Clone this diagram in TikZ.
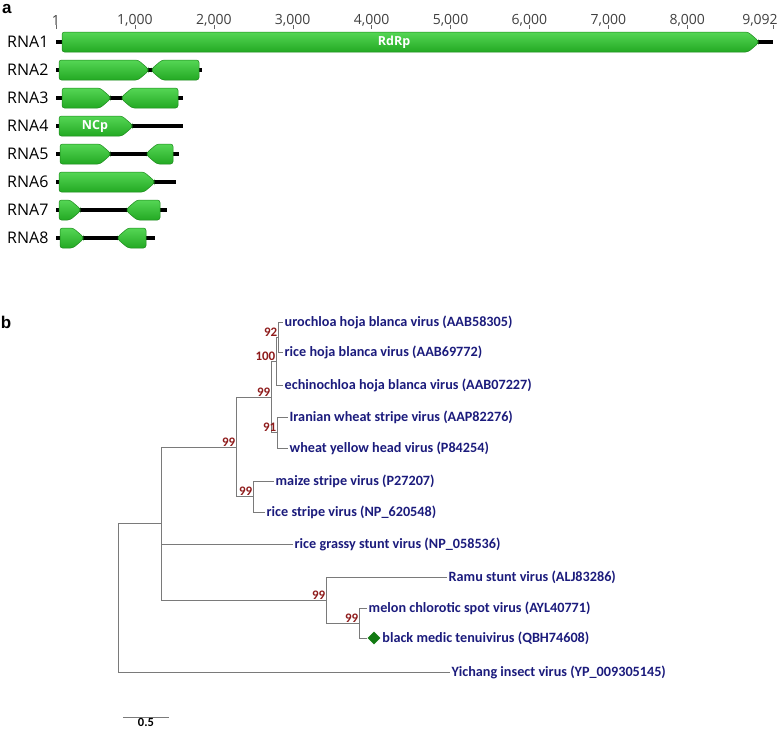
\documentclass[tikz,border=0pt]{standalone}
\usepackage{fontspec}
\usepackage{xcolor}
\setmainfont{Open Sans}
\newfontfamily\treefont{Carlito}
\newfontfamily\panelfont{Liberation Sans}
\usetikzlibrary{shapes.geometric, positioning, calc}
\definecolor{orftop}{HTML}{55D655}
\definecolor{orfbottom}{HTML}{23A923}
\definecolor{orfedge}{HTML}{1C8A1C}
\definecolor{taxonblue}{HTML}{1B1B7C}
\definecolor{bootred}{HTML}{8E1B1B}
\definecolor{branchgray}{HTML}{7A7A7A}
\definecolor{markgreen}{HTML}{127A12}

% ORF boxes: #1 = row y, #2 = start, #3 = end
\newcommand{\orffwd}[3]{%
    \draw[orf] (#2,#1-10) -- (#3-10,#1-10) -- (#3,#1-1.5) -- (#3,#1+1.5) -- (#3-10,#1+10) -- (#2,#1+10) -- cycle;}
\newcommand{\orfrev}[3]{%
    \draw[orf] (#2,#1-1.5) -- (#2+10,#1-10) -- (#3,#1-10) -- (#3,#1+10) -- (#2+10,#1+10) -- (#2,#1+1.5) -- cycle;}

\begin{document}
\begin{tikzpicture}[x=1pt, y=-1pt,
    orf/.style={draw=orfedge, line width=0.5pt, rounded corners=2.5pt, top color=orftop, bottom color=orfbottom},
    genome/.style={line width=4.5pt, line cap=butt},
    rnalabel/.style={anchor=west, inner sep=0pt, font=\fontsize{16}{18}\selectfont},
    scalelabel/.style={inner sep=0pt, text=black!75, font=\fontsize{14}{16}\selectfont},
    orflabel/.style={inner sep=0pt, text=white, font=\fontsize{12.5}{14}\selectfont\bfseries},
    panel/.style={inner sep=0pt, font=\panelfont\fontsize{17}{19}\selectfont\bfseries},
    branch/.style={draw=branchgray, line width=1pt},
    taxon/.style={anchor=west, inner sep=1.5pt, text=taxonblue, font=\treefont\fontsize{14.2}{16}\selectfont\bfseries},
    boot/.style={anchor=south east, inner sep=0.5pt, text=bootred, font=\treefont\fontsize{13}{15}\selectfont\bfseries}]
    \useasboundingbox (0,0) rectangle (778,732);

    % Panel letters
    \node[panel, anchor=north west] (pa) at (2,4) {a};
    \node[panel] (pb) at (6,322) {b};

    % Genome scale
    \foreach \pos/\lab in {0/1, 1000/{1,000}, 2000/{2,000}, 3000/{3,000}, 4000/{4,000}, 5000/{5,000}, 6000/{6,000}, 7000/{7,000}, 8000/{8,000}}{
        \node[scalelabel] (t\pos) at ({56+0.0789*\pos},20) {\lab};
        \draw[black!60, line width=0.4pt] ({56+0.0789*\pos},25) -- ++(0,4);
    }
    \node[scalelabel] (t9092) at (760,20) {9,092};
    \draw[black!60, line width=0.4pt] (773,25) -- ++(0,4);

    % Segments
    \foreach \seg/\y/\len in {RNA1/42/773, RNA2/70/202, RNA3/98/183, RNA4/126/183, RNA5/154/179, RNA6/182/176, RNA7/210/167, RNA8/238/155}{
        \node[rnalabel] (\seg) at (7,\y) {\seg};
        \draw[genome] (56,\y) -- (\len,\y);
    }

    % ORFs
    \orffwd{42}{62}{758}
    \orffwd{70}{59}{148}  \orfrev{70}{152}{199}
    \orffwd{98}{62}{110}  \orfrev{98}{122}{178}
    \orffwd{126}{59}{132}
    \orffwd{154}{60}{110} \orfrev{154}{147}{173}
    \orffwd{182}{59}{154}
    \orffwd{210}{59}{80}  \orfrev{210}{127}{160}
    \orffwd{238}{60}{83}  \orfrev{238}{118}{146}
    \node[orflabel] (rdrp) at (394,42) {RdRp};
    \node[orflabel] (ncp) at (95,126) {NCp};

    % Taxa
    \node[taxon] (uhbv) at (283,322) {urochloa hoja blanca virus (AAB58305)};
    \node[taxon] (rhbv) at (283,352) {rice hoja blanca virus (AAB69772)};
    \node[taxon] (ehbv) at (283,385) {echinochloa hoja blanca virus (AAB07227)};
    \node[taxon] (iwsv) at (288,417) {Iranian wheat stripe virus (AAP82276)};
    \node[taxon] (wyhv) at (288,448) {wheat yellow head virus (P84254)};
    \node[taxon] (mstv) at (274,481) {maize stripe virus (P27207)};
    \node[taxon] (rsv) at (265,512) {rice stripe virus (NP\_620548)};
    \node[taxon] (rgsv) at (293,544) {rice grassy stunt virus (NP\_058536)};
    \node[taxon] (rastv) at (447,577) {Ramu stunt virus (ALJ83286)};
    \node[taxon] (mcsv) at (367,608) {melon chlorotic spot virus (AYL40771)};
    \node[diamond, fill=markgreen, inner sep=0pt, minimum size=13pt] (bmtvmark) at (374,638) {};
    \node[taxon, right=0pt of bmtvmark] (bmtv) {black medic tenuivirus (QBH74608)};
    \node[taxon] (yiv) at (450,672) {Yichang insect virus (YP\_009305145)};

    % Internal nodes
    \coordinate (n92) at (278,337);
    \coordinate (n100) at (276,361);
    \coordinate (n91) at (277,432.5);
    \coordinate (n99a) at (271,397);
    \coordinate (n99b) at (253,496.5);
    \coordinate (n99c) at (236,447);
    \coordinate (nmid) at (161,523.5);
    \coordinate (n99e) at (359,623);
    \coordinate (n99d) at (326,600);
    \coordinate (root) at (118,598);

    % Branches
    \draw[branch] (n92) |- (uhbv.west);
    \draw[branch] (n92) |- (rhbv.west);
    \draw[branch] (n100) |- (n92);
    \draw[branch] (n100) |- (ehbv.west);
    \draw[branch] (n91) |- (iwsv.west);
    \draw[branch] (n91) |- (wyhv.west);
    \draw[branch] (n99a) |- (n100);
    \draw[branch] (n99a) |- (n91);
    \draw[branch] (n99b) |- (mstv.west);
    \draw[branch] (n99b) |- (rsv.west);
    \draw[branch] (n99c) |- (n99a);
    \draw[branch] (n99c) |- (n99b);
    \draw[branch] (nmid) |- (n99c);
    \draw[branch] (nmid) |- (rgsv.west);
    \draw[branch] (nmid) |- (n99d);
    \draw[branch] (n99e) |- (mcsv.west);
    \draw[branch] (n99e) |- (bmtvmark.west);
    \draw[branch] (n99d) |- (rastv.west);
    \draw[branch] (n99d) |- (n99e);
    \draw[branch] (root) |- (nmid);
    \draw[branch] (root) |- (yiv.west);

    % Bootstrap values
    \node[boot] (b92) at (n92) {92};
    \node[boot] (b100) at (n100) {100};
    \node[boot] (b91) at (n91) {91};
    \node[boot] (b99a) at (n99a) {99};
    \node[boot] (b99b) at (n99b) {99};
    \node[boot] (b99c) at (n99c) {99};
    \node[boot] (b99d) at (n99d) {99};
    \node[boot] (b99e) at (n99e) {99};

    % Scale bar
    \coordinate (sbl) at (123,717);
    \coordinate (sbr) at (169,717);
    \draw[branch] (sbl) -- (sbr);
    \node[inner sep=0pt, font=\treefont\fontsize{12.5}{14}\selectfont\bfseries, below=1.5pt of {$(sbl)!0.5!(sbr)$}] (sblab) {0.5};
\end{tikzpicture}
\end{document}
